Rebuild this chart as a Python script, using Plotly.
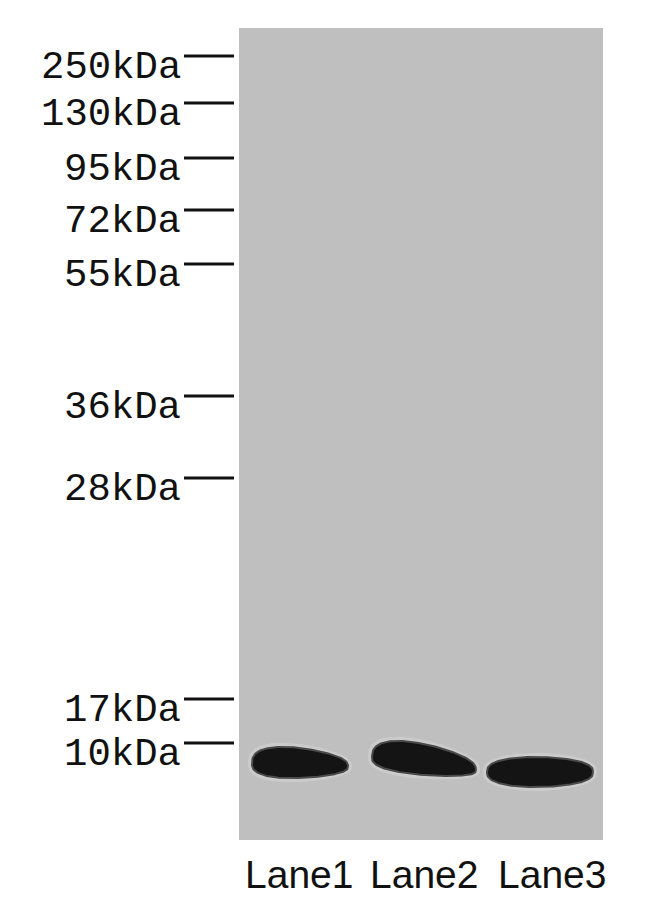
import numpy as np
import plotly.graph_objects as go

# ladder (marker positions measured along the gel, in image pixels)
marker_labels = ["250kDa", "130kDa", "95kDa", "72kDa", "55kDa", "36kDa", "28kDa", "17kDa", "10kDa"]
marker_y = [56, 103, 158, 210, 264, 396, 478, 699, 743]

# lanes and the detected bands
lanes = ["Lane1", "Lane2", "Lane3"]
lane_x = [299, 424, 552]
band_x = [300, 424, 540]
band_y = [765, 764, 772]
band_width = [96, 104, 106]
band_top = [17, 20, 15]      # half thickness above the band midline
band_bottom = [13, 11, 15]   # half thickness below it
band_taper = [0.25, 0.22, 0.06]
band_tilt = [0.03, 0.12, 0.0]

W, H = 650, 909
PAD = 8  # default body margin of the html page
GEL = dict(x0=239, x1=603, y0=28, y1=840)


def band_path(cx, cy, w, top, bottom, taper, tilt, grow=0.0):
    t = np.linspace(0, 2 * np.pi, 181)
    c, s = np.cos(t), np.sin(t)
    x = cx + (w / 2 + grow) * c
    mid = cy + tilt * (x - cx)
    bulge = np.abs(s) ** 0.75 * (1 - taper * c)
    y = np.where(s < 0, mid - (top + grow) * bulge, mid + (bottom + grow) * bulge)
    return x, y


fig = go.Figure()

fig.add_shape(type="rect", x0=GEL["x0"], x1=GEL["x1"], y0=GEL["y0"], y1=GEL["y1"],
              fillcolor="#bfbfbf", line=dict(width=0), layer="below")

bands = zip(band_x, band_y, band_width, band_top, band_bottom, band_taper, band_tilt)
for cx, cy, w, top, bottom, taper, tilt in bands:
    hx, hy = band_path(cx, cy, w, top, bottom, taper, tilt, grow=4)
    fig.add_trace(go.Scatter(x=hx, y=hy, mode="lines", fill="toself",
                             fillcolor="rgba(206,206,206,0.8)", line=dict(width=0),
                             hoverinfo="skip", showlegend=False))
    bx, by = band_path(cx, cy, w, top, bottom, taper, tilt)
    fig.add_trace(go.Scatter(x=bx, y=by, mode="lines", fill="toself",
                             fillcolor="#141414", line=dict(color="#4a4a4a", width=2),
                             hoverinfo="skip", showlegend=False))

lx, ly = [], []
for y in marker_y:
    lx += [184, 234, None]
    ly += [y, y, None]
fig.add_trace(go.Scatter(x=lx, y=ly, mode="lines", line=dict(color="#111111", width=3),
                         hoverinfo="skip", showlegend=False))

for label, y in zip(marker_labels, marker_y):
    fig.add_annotation(x=183, y=y + 12, text=label, showarrow=False, xanchor="right", yanchor="middle",
                       font=dict(family="Liberation Mono, Courier New, monospace", size=39, color="#111111"))

for label, x in zip(lanes, lane_x):
    fig.add_annotation(x=x, y=874, text=label, showarrow=False, xanchor="center", yanchor="middle",
                       font=dict(family="Liberation Sans, Arial, sans-serif", size=39, color="#111111"))

fig.update_xaxes(range=[PAD, W], visible=False)
fig.update_yaxes(range=[H, PAD], visible=False)
fig.update_layout(width=W - PAD, height=H - PAD, margin=dict(l=0, r=0, t=0, b=0),
                  plot_bgcolor="white", paper_bgcolor="white")
fig.write_html("out.html")
